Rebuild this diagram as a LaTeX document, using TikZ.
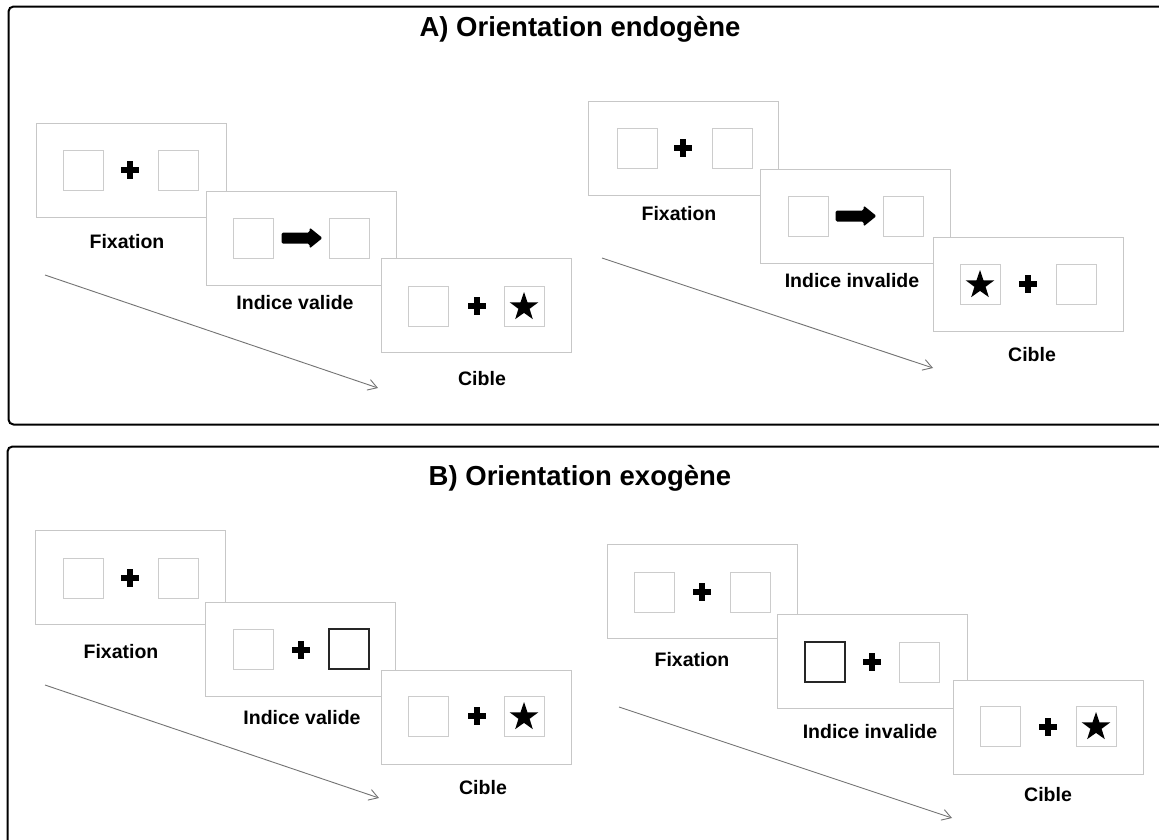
\documentclass[tikz,border=0pt]{standalone}
\usepackage{fontspec}
\setmainfont{Liberation Sans}
\usetikzlibrary{arrows.meta,shapes.geometric}
\tikzset{
  panel/.style={draw=black, line width=2pt, rounded corners=5pt},
  screen/.style={draw=black!22, fill=white, line width=1pt, minimum width=190pt, minimum height=94pt, inner sep=0pt, outer sep=0pt},
  sq/.style={draw=black!20, line width=1pt, minimum size=40pt, inner sep=0pt, outer sep=0pt},
  sqdark/.style={draw=black!85, line width=2pt, minimum size=40pt, inner sep=0pt, outer sep=0pt},
  lbl/.style={font=\bfseries\fontsize{19.5}{23}\selectfont, inner sep=0pt},
  ttl/.style={font=\bfseries\fontsize{27.5}{32}\selectfont, inner sep=0pt},
  timeline/.style={draw=black!55, line width=0.9pt, -{Straight Barb[length=9pt,width=11pt,line width=0.9pt]}},
  starnode/.style={star, star points=5, star point ratio=2.55, fill=black, minimum size=30pt, inner sep=0pt, shape border rotate=0},
  plus/.pic={\fill[black] (-9,-3.3) rectangle (9,3.3); \fill[black] (-3.3,-9) rectangle (3.3,9);},
  cue/.pic={\fill[black, rounded corners=1.5pt] (-20.5,-5.5) -- (7.5,-5.5) -- (7.5,-10.5) -- (20.5,0) -- (7.5,10.5) -- (7.5,5.5) -- (-20.5,5.5) -- cycle;}
}
\begin{document}
\begin{tikzpicture}[x=1pt,y=-1pt]
\useasboundingbox (0,0) rectangle (1159,839);
\clip (0,0) rectangle (1159,839);
\fill[white] (0,0) rectangle (1159,839);
% panels
\draw[panel] (8.5,6.5) rectangle (1180,424.5);
\draw[panel] (7.5,446.5) rectangle (1180,870);
\node[ttl] (titleA) at (580,29) {A) Orientation endogène};
\node[ttl] (titleB) at (580,478) {B) Orientation exogène};

% ===== Panel A, left =====
\coordinate (tA1s) at (45,275);
\coordinate (tA1e) at (378,388);
\draw[timeline] (tA1s) -- (tA1e);
\node[screen] (A1fix) at (131,170) {};
\node[sq] (A1fixL) at (83,170) {};
\node[sq] (A1fixR) at (178,170) {};
\pic at (130,170) {plus};
\node[lbl] (A1fixT) at (127,242) {Fixation};
\node[screen] (A1ind) at (301.5,238.5) {};
\node[sq] (A1indL) at (253.5,238) {};
\node[sq] (A1indR) at (349.5,238) {};
\pic at (302,238) {cue};
\node[lbl] (A1indT) at (295,303) {Indice valide};
\node[screen] (A1cib) at (476.5,305.5) {};
\node[sq] (A1cibL) at (428.5,306) {};
\node[sq] (A1cibR) at (524,306) {};
\pic at (477,306) {plus};
\node[starnode] (A1star) at (524,307) {};
\node[lbl] (A1cibT) at (482,379) {Cible};

% ===== Panel A, right =====
\coordinate (tA2s) at (602,258);
\coordinate (tA2e) at (933,368);
\draw[timeline] (tA2s) -- (tA2e);
\node[screen] (A2fix) at (683.5,148.5) {};
\node[sq] (A2fixL) at (637,148) {};
\node[sq] (A2fixR) at (732,148) {};
\pic at (683,148) {plus};
\node[lbl] (A2fixT) at (679,214) {Fixation};
\node[screen] (A2ind) at (855,216.5) {};
\node[sq] (A2indL) at (808,216) {};
\node[sq] (A2indR) at (903,216) {};
\pic at (856,216) {cue};
\node[lbl] (A2indT) at (852,281) {Indice invalide};
\node[screen] (A2cib) at (1028.5,284.5) {};
\node[sq] (A2cibL) at (980,284) {};
\node[sq] (A2cibR) at (1076,284) {};
\pic at (1028,284) {plus};
\node[starnode] (A2star) at (980,285) {};
\node[lbl] (A2cibT) at (1032,355) {Cible};

% ===== Panel B, left =====
\coordinate (tB1s) at (45,685);
\coordinate (tB1e) at (379,798);
\draw[timeline] (tB1s) -- (tB1e);
\node[screen] (B1fix) at (130.5,577.5) {};
\node[sq] (B1fixL) at (83,578) {};
\node[sq] (B1fixR) at (178,578) {};
\pic at (130,578) {plus};
\node[lbl] (B1fixT) at (121,652) {Fixation};
\node[screen] (B1ind) at (300.5,649) {};
\node[sq] (B1indL) at (253,649) {};
\node[sqdark] (B1indR) at (348.5,649) {};
\pic at (301,650) {plus};
\node[lbl] (B1indT) at (302,718) {Indice valide};
\node[screen] (B1cib) at (476.5,717) {};
\node[sq] (B1cibL) at (428,716) {};
\node[sq] (B1cibR) at (524,716) {};
\pic at (477,716) {plus};
\node[starnode] (B1star) at (524,717) {};
\node[lbl] (B1cibT) at (483,788) {Cible};

% ===== Panel B, right =====
\coordinate (tB2s) at (619,707);
\coordinate (tB2e) at (952,818);
\draw[timeline] (tB2s) -- (tB2e);
\node[screen] (B2fix) at (702,591) {};
\node[sq] (B2fixL) at (654,592) {};
\node[sq] (B2fixR) at (750,592) {};
\pic at (702,592) {plus};
\node[lbl] (B2fixT) at (692,660) {Fixation};
\node[screen] (B2ind) at (872,661.5) {};
\node[sqdark] (B2indL) at (824.5,662) {};
\node[sq] (B2indR) at (919.5,662) {};
\pic at (872,662) {plus};
\node[lbl] (B2indT) at (870,732) {Indice invalide};
\node[screen] (B2cib) at (1048.5,727) {};
\node[sq] (B2cibL) at (1000,726) {};
\node[sq] (B2cibR) at (1096,726) {};
\pic at (1048,727) {plus};
\node[starnode] (B2star) at (1096,727) {};
\node[lbl] (B2cibT) at (1048,795) {Cible};
\end{tikzpicture}
\end{document}
